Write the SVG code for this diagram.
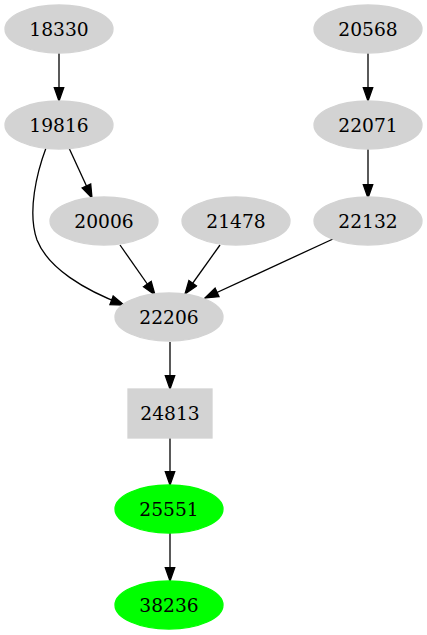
<svg xmlns="http://www.w3.org/2000/svg" width="427" height="635" viewBox="0 0 427 635">
<style>
.n ellipse, .n rect { fill: #d3d3d3; stroke: #d3d3d3; stroke-width: 1.3; }
.g ellipse { fill: #00ff00; stroke: #00ff00; }
text { font-family: "DejaVu Serif", "Liberation Serif", serif; font-size: 18.67px; text-anchor: middle; fill: #000; }
#edges path { fill: none; stroke: #000; stroke-width: 1.3; marker-end: url(#arr); }
</style>
<defs>
<marker id="arr" markerUnits="userSpaceOnUse" markerWidth="16" markerHeight="12" refX="13.3" refY="4.7" orient="auto" viewBox="-1 -1 16 12">
<path d="M0,0 L13.3,4.7 L0,9.4 Z" fill="#000" stroke="#000" stroke-width="1.3"/>
</marker>
</defs>
<rect width="427" height="635" fill="#fff"/>
<g id="edges">
<path d="M59,53 L59,101"/>
<path d="M368,53 L368,101"/>
<path d="M368,148 L368,198"/>
<path d="M69,148 L92,198"/>
<path d="M46,148 C37,172 27,212 37,240 C48,268 84,290 124,305"/>
<path d="M120,245 L155,295"/>
<path d="M220,245 L185,294"/>
<path d="M333,239 L205,298"/>
<path d="M170,342 L170,389"/>
<path d="M170,438 L170,485"/>
<path d="M170,533 L170,581"/>
</g>
<g id="n18330" class="n"><ellipse cx="59" cy="29" rx="54" ry="24"/><text x="59" y="36">18330</text></g>
<g id="n20568" class="n"><ellipse cx="368" cy="29" rx="54" ry="24"/><text x="368" y="36">20568</text></g>
<g id="n19816" class="n"><ellipse cx="59" cy="125" rx="54" ry="24"/><text x="59" y="132">19816</text></g>
<g id="n22071" class="n"><ellipse cx="368" cy="125" rx="54" ry="24"/><text x="368" y="132">22071</text></g>
<g id="n20006" class="n"><ellipse cx="104" cy="221" rx="54" ry="24"/><text x="104" y="228">20006</text></g>
<g id="n21478" class="n"><ellipse cx="236" cy="221" rx="54" ry="24"/><text x="236" y="228">21478</text></g>
<g id="n22132" class="n"><ellipse cx="368" cy="221" rx="54" ry="24"/><text x="368" y="228">22132</text></g>
<g id="n22206" class="n"><ellipse cx="169" cy="317" rx="54" ry="24"/><text x="169" y="324">22206</text></g>
<g id="n24813" class="n"><rect x="128" y="389" width="84" height="49"/><text x="170" y="420">24813</text></g>
<g id="n25551" class="n g"><ellipse cx="169" cy="509" rx="54" ry="24"/><text x="169" y="516">25551</text></g>
<g id="n38236" class="n g"><ellipse cx="169" cy="605" rx="54" ry="24"/><text x="169" y="612">38236</text></g>
</svg>
